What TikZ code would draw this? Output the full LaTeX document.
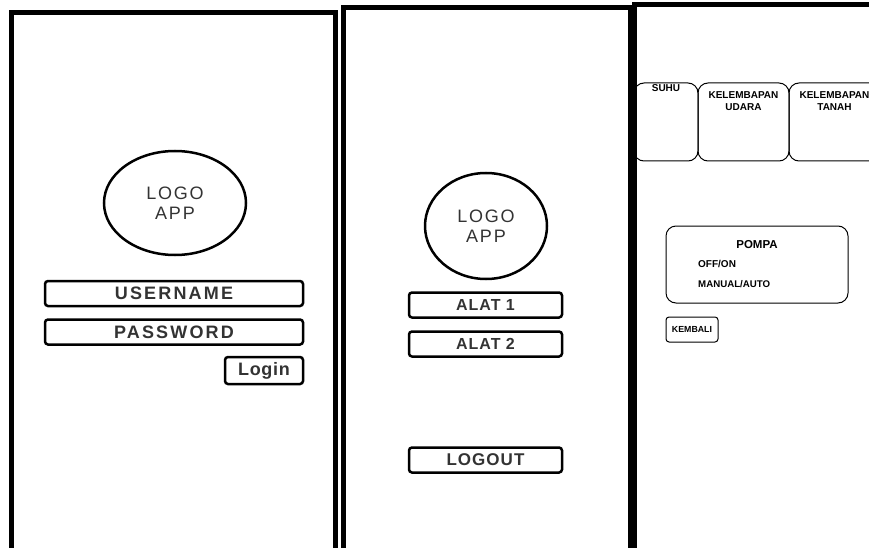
\documentclass[tikz,border=0pt]{standalone}
\usepackage{fontspec}
\setmainfont{Liberation Sans}
\usetikzlibrary{shapes.geometric, positioning}
\tikzset{
    screen/.style={draw=black, line width=5pt},
    logo/.style={ellipse, draw=black, line width=2.5pt, text=black!80, align=center, inner sep=0pt, font=\fontsize{18}{20}\selectfont\addfontfeature{LetterSpace=10}},
    btn/.style={rectangle, draw=black, line width=2.5pt, rounded corners=3pt, minimum height=25pt, inner sep=0pt, text=black!80, font=\fontsize{16}{18}\selectfont\bfseries\addfontfeature{LetterSpace=6}},
    card/.style={rectangle, draw=black, line width=1pt, rounded corners=10pt, inner sep=0pt},
    lbl/.style={inner sep=0pt, align=center, font=\fontsize{10}{12}\selectfont\bfseries}
}

\begin{document}
\begin{tikzpicture}[x=1pt, y=-1pt]
    \useasboundingbox (0,0) rectangle (869,548);
    \clip (0,0) rectangle (869,548);

    % login screen
    \draw [screen] (11,13) rectangle (335,570);
    \node (logoA) [logo, minimum width=142pt, minimum height=104pt] at (175,203) {LOGO\\APP};
    \node (user) [btn, minimum width=258pt, font=\fontsize{18}{20}\selectfont\bfseries\addfontfeature{LetterSpace=12}] at (174,293.5) {USERNAME};
    \node (pass) [btn, minimum width=258pt, font=\fontsize{18}{20}\selectfont\bfseries\addfontfeature{LetterSpace=12}] at (174,332) {PASSWORD};
    \node (login) [btn, minimum width=78pt, minimum height=27pt, font=\fontsize{18}{20}\selectfont\bfseries\addfontfeature{LetterSpace=4}] at (264,370.5) {Login};

    % menu screen
    \draw [screen] (343,8) rectangle (630,570);
    \node (logoB) [logo, minimum width=122pt, minimum height=106pt] at (486,226) {LOGO\\APP};
    \node (alat1) [btn, minimum width=153pt] at (485.5,305) {ALAT 1};
    \node (alat2) [btn, minimum width=153pt] at (485.5,344) {ALAT 2};
    \node (logout) [btn, minimum width=153pt, font=\fontsize{17}{19}\selectfont\bfseries\addfontfeature{LetterSpace=6}] at (485.5,460) {LOGOUT};

    % device screen
    \draw [screen] (634,5) rectangle (900,570);
    \node (suhu) [card, minimum width=64pt, minimum height=78pt] at (666,122) {};
    \node (udara) [card, minimum width=91pt, minimum height=78pt] at (743.5,122) {};
    \node (tanah) [card, minimum width=91pt, minimum height=78pt] at (834.5,122) {};
    \node (suhuT) [lbl, anchor=north] at ([yshift=-2pt]suhu.north) {SUHU};
    \node (udaraT) [lbl, anchor=north] at ([yshift=-9pt]udara.north) {KELEMBAPAN\\UDARA};
    \node (tanahT) [lbl, anchor=north] at ([yshift=-9pt]tanah.north) {KELEMBAPAN\\TANAH};

    \node (pompa) [card, minimum width=182pt, minimum height=77pt] at (757,264.5) {};
    \node (pompaT) [lbl, font=\fontsize{11.5}{13}\selectfont\bfseries] at (757,245) {POMPA};
    \node (onoff) [lbl, anchor=west, font=\fontsize{10}{12}\selectfont\bfseries] at (698,264) {OFF/ON};
    \node (mode) [lbl, anchor=west, font=\fontsize{9.7}{12}\selectfont\bfseries] at (698,284) {MANUAL/AUTO};
    \node (kembali) [card, rounded corners=3pt, minimum width=52pt, minimum height=25pt, font=\fontsize{8.8}{10}\selectfont\bfseries] at (692,329.5) {KEMBALI};
\end{tikzpicture}
\end{document}
